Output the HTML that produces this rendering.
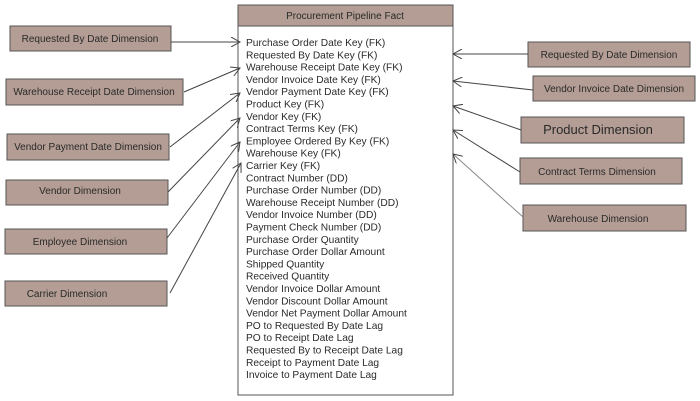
<!DOCTYPE html>
<html><head><meta charset="utf-8"><style>
html,body{margin:0;padding:0;background:#fff;width:700px;height:401px;overflow:hidden}
svg text{font-family:"Liberation Sans",sans-serif;fill:#2a2a2a}
</style></head><body>
<svg width="700" height="401" viewBox="0 0 700 401" xmlns="http://www.w3.org/2000/svg">
<defs><marker id="a" markerWidth="10" markerHeight="10" refX="9" refY="5" orient="auto" markerUnits="userSpaceOnUse"><path d="M0,0 L9,5 L0,10" fill="none" stroke="#444" stroke-width="1"/></marker></defs>
<g fill="#b39d94" stroke="#555" stroke-width="1">
<rect x="10" y="26" width="161" height="25"/>
<rect x="6" y="79" width="177" height="26"/>
<rect x="7" y="134" width="162" height="26"/>
<rect x="6" y="180" width="162" height="25"/>
<rect x="5" y="229" width="162" height="25"/>
<rect x="5" y="281" width="162" height="25"/>
<rect x="528" y="42" width="162" height="25"/>
<rect x="533" y="76" width="162" height="25"/>
<rect x="521" y="117" width="163" height="26"/>
<rect x="520" y="158" width="162" height="26"/>
<rect x="523" y="205" width="163" height="26"/>
<rect x="238" y="5" width="215" height="21"/>
</g>
<rect x="238" y="26" width="215" height="369" fill="#fff" stroke="#555"/>
<g font-size="10" text-anchor="middle">
<text x="90" y="42">Requested By Date Dimension</text>
<text x="94" y="95">Warehouse Receipt Date Dimension</text>
<text x="88" y="150">Vendor Payment Date Dimension</text>
<text x="80" y="194">Vendor  Dimension</text>
<text x="80" y="245">Employee Dimension</text>
<text x="67" y="297">Carrier Dimension</text>
<text x="609" y="58">Requested By Date Dimension</text>
<text x="614" y="92">Vendor Invoice Date Dimension</text>
<text x="598" y="134" font-size="13">Product Dimension</text>
<text x="597" y="175">Contract Terms Dimension</text>
<text x="598" y="222">Warehouse Dimension</text>
<text x="345" y="19">Procurement Pipeline Fact</text>
</g>
<g font-size="10.2">
<text x="246" y="46">Purchase Order Date Key (FK)</text>
<text x="246" y="58.3">Requested By Date Key (FK)</text>
<text x="246" y="70.6">Warehouse Receipt Date Key (FK)</text>
<text x="246" y="82.9">Vendor Invoice Date Key (FK)</text>
<text x="246" y="95.2">Vendor Payment Date Key (FK)</text>
<text x="246" y="107.5">Product Key (FK)</text>
<text x="246" y="119.8">Vendor Key (FK)</text>
<text x="246" y="132.1">Contract Terms Key (FK)</text>
<text x="246" y="144.4">Employee Ordered By Key (FK)</text>
<text x="246" y="156.7">Warehouse Key (FK)</text>
<text x="246" y="169">Carrier Key (FK)</text>
<text x="246" y="181.3">Contract Number (DD)</text>
<text x="246" y="193.6">Purchase Order Number (DD)</text>
<text x="246" y="205.9">Warehouse Receipt Number (DD)</text>
<text x="246" y="218.2">Vendor Invoice Number (DD)</text>
<text x="246" y="230.5">Payment Check Number (DD)</text>
<text x="246" y="242.8">Purchase Order Quantity</text>
<text x="246" y="255.1">Purchase Order Dollar Amount</text>
<text x="246" y="267.4">Shipped Quantity</text>
<text x="246" y="279.7">Received Quantity</text>
<text x="246" y="292">Vendor Invoice Dollar Amount</text>
<text x="246" y="304.3">Vendor Discount Dollar Amount</text>
<text x="246" y="316.6">Vendor Net Payment Dollar Amount</text>
<text x="246" y="328.9">PO to Requested By Date Lag</text>
<text x="246" y="341.2">PO to Receipt Date Lag</text>
<text x="246" y="353.5">Requested By to Receipt Date Lag</text>
<text x="246" y="365.8">Receipt to Payment Date Lag</text>
<text x="246" y="378.1">Invoice to Payment Date Lag</text>
</g>
<g stroke="#444" stroke-width="1" fill="none" marker-end="url(#a)">
<line x1="171" y1="42" x2="240" y2="42"/>
<line x1="184" y1="92" x2="240" y2="68"/>
<line x1="170" y1="147" x2="240" y2="93"/>
<line x1="168" y1="192" x2="240" y2="118"/>
<line x1="167" y1="238" x2="240" y2="142"/>
<line x1="170" y1="293" x2="241" y2="163"/>
<line x1="528" y1="54" x2="453" y2="54"/>
<line x1="533" y1="90" x2="453" y2="81"/>
<line x1="521" y1="130" x2="453" y2="106"/>
<line x1="520" y1="172" x2="453" y2="130"/>
<line x1="523" y1="217" x2="453" y2="154" stroke="#888"/>
</g>
</svg>
</body></html>
